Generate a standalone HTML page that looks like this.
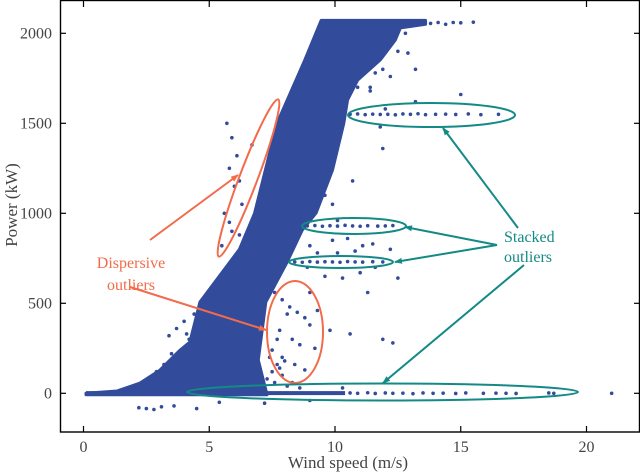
<!DOCTYPE html>
<html><head><meta charset="utf-8"><style>
html,body{margin:0;padding:0;background:#fff;}
svg{display:block;}
text{font-family:"Liberation Serif",serif;}
</style></head><body>
<svg id="chart" width="640" height="472" viewBox="0 0 640 472" xmlns="http://www.w3.org/2000/svg" style="position:absolute;left:0;top:0">
<g id="plot"></g>
<g id="axes"></g>
</svg>
<script>
const xTicks=[0,5,10,15,20];
const yTicks=[0,500,1000,1500,2000];
// dense band outline (wind speed, power)
const bandLeftSpeed=[0.1,1.34,2.25,3.04,3.84,4.23,4.63,6.2,6.8,7.7,8.8,9.45];
const bandLeftPower=[0,13,57,129,240,285,507,800,1000,1502,1852,2072];
const bandRightSpeed=[13.6,13.6,12.6,12.4,11.8,10.9,10.5,10.35,9.9,9.25,8.7,8.1,7.25,6.95,7.2,7.3,0.1];
const bandRightPower=[2072,2050,2030,1963,1852,1740,1630,1500,1240,1002,907,730,507,185,46,-8,-8];
// scattered outliers
const outSpeed=[10.6,10.9,11.2,11.5,11.8,12.1,12.4,12.7,13.0,13.3,13.6,14.0,14.4,14.8,15.3,15.8,16.5,
8.9,9.2,9.5,9.8,10.1,10.4,10.7,11.0,11.3,11.7,12.0,12.3,
8.4,8.7,9.0,9.3,9.6,9.9,10.2,10.5,10.8,11.1,11.5,11.9,
10.6,10.9,11.3,11.6,12.0,12.3,12.7,13.1,13.5,13.9,14.3,14.8,15.2,15.9,16.4,16.8,17.2,18.5,18.7,21.0,
5.7,5.9,6.1,5.8,6.0,6.3,5.6,5.9,6.2,6.4,5.5,6.6,6.7,6.2,5.8,
7.6,7.9,8.2,8.5,8.8,9.0,7.8,8.3,8.6,9.2,7.9,8.4,8.8,7.7,8.1,9.0,
9.9,10.5,11.1,10.1,10.8,11.5,12.2,9.6,10.3,11.0,11.6,12.5,9.3,9.8,10.6,11.9,12.3,
10.0,10.7,11.6,12.0,11.4,13.2,15.0,12.9,
2.2,2.5,2.8,3.1,3.6,4.5,7.2,5.4,9.0,10.3,
11.8,11.9,13.2,12.0,10.7,11.3,
3.4,3.7,4.0,4.2,3.5,3.9,4.4,2.9,3.2,4.1,
7.3,7.5,7.7,7.4,7.6,7.9,8.1,7.5,8.3,8.6,8.0,7.8,
10.7,11.0,11.3,11.6,11.9,12.2,10.9,11.4,12.8,13.0,13.3,13.8,14.1,14.4,14.7,15.0,15.5,12.5,
9.4,9.6,9.9,10.1,9.0,9.3,8.9,6.9,7.1,6.6];
const outPower=[1550,1552,1548,1551,1549,1550,1547,1552,1550,1553,1548,1550,1551,1549,1552,1548,1550,
930,932,928,931,929,933,930,928,931,929,930,932,
730,728,732,729,731,730,728,732,730,729,731,730,
2,0,3,-1,2,0,1,-2,2,0,1,-1,2,0,1,0,-1,2,0,0,
1500,1420,1320,1250,1150,1050,1000,900,880,860,820,780,1380,1180,950,
560,520,480,450,420,380,350,300,270,250,200,160,130,300,440,560,
850,860,820,780,790,830,800,650,640,670,700,640,460,350,330,300,280,
1900,1830,1780,1950,1700,1620,1660,1890,
-80,-85,-90,-75,-70,-85,-55,-50,-40,30,
1480,1360,1800,1580,1180,560,
320,360,400,300,220,180,440,120,160,330,
80,120,160,200,60,100,40,240,60,30,180,140,
1960,1920,1880,1840,1800,1760,1700,1680,2000,2040,2060,2055,2060,2050,2060,2058,2062,1900,
1200,1100,1050,960,820,780,700,600,650,260];

const X0=83.5, XS=25.15, Y0=393.3, YS=0.18;
const sx=v=>X0+v*XS, sy=v=>Y0-v*YS;
const NS='http://www.w3.org/2000/svg';
function mk(tag,attrs,parent){const e=document.createElementNS(NS,tag);for(const k in attrs)e.setAttribute(k,attrs[k]);parent.appendChild(e);return e;}
const plot=document.getElementById('plot'),axes=document.getElementById('axes');
const BLUE='#324b9b';
const FONT='"Liberation Serif", serif';
let pts=[];
for(let i=0;i<bandLeftSpeed.length;i++)pts.push(sx(bandLeftSpeed[i])+','+sy(bandLeftPower[i]));
for(let i=0;i<bandRightSpeed.length;i++)pts.push(sx(bandRightSpeed[i])+','+sy(bandRightPower[i]));
const band=mk('polygon',{points:pts.join(' '),fill:BLUE,stroke:BLUE,'stroke-width':3,'stroke-linejoin':'round'},plot);


const zl=mk('rect',{x:sx(0.1),y:sy(0)-2.2,width:sx(10.4)-sx(0.1),height:4,fill:BLUE},plot);


for(let i=0;i<outSpeed.length;i++){
 const c=mk('circle',{cx:sx(outSpeed[i]),cy:sy(outPower[i]),r:1.8,fill:BLUE},plot);
 
 
}
const fr=mk('rect',{x:60.5,y:0.5,width:579,height:431.5,fill:'none',stroke:'#000','stroke-width':1.4},axes);


xTicks.forEach(t=>{
 const x=sx(t);
 mk('line',{x1:x,x2:x,y1:432,y2:426,stroke:'#000','stroke-width':1.2},axes);
 mk('line',{x1:x,x2:x,y1:1,y2:7,stroke:'#000','stroke-width':1.2},axes);
 const tx=mk('text',{x:x,y:452,'text-anchor':'middle','font-size':16,fill:'#444','font-family':FONT},axes);
 tx.textContent=t;
 
 
});
yTicks.forEach(t=>{
 const y=sy(t);
 mk('line',{x1:60,x2:66,y1:y,y2:y,stroke:'#000','stroke-width':1.2},axes);
 mk('line',{x1:640,x2:634,y1:y,y2:y,stroke:'#000','stroke-width':1.2},axes);
 const tx=mk('text',{x:52,y:y+5,'text-anchor':'end','font-size':16,fill:'#444','font-family':FONT},axes);
 tx.textContent=t;
 
 
});
const xl=mk('text',{x:348,y:468,'text-anchor':'middle','font-size':17,fill:'#444','font-family':FONT},axes);
xl.textContent='Wind speed (m/s)';


const yl=mk('text',{x:0,y:0,'text-anchor':'middle','font-size':17,fill:'#444','font-family':FONT,transform:'translate(17,205) rotate(-90)'},axes);
yl.textContent='Power (kW)';


</script>
<svg style="position:absolute;left:0;top:0" width="640" height="472">
<defs>
<marker id="ao" markerWidth="8" markerHeight="8" refX="7" refY="4" orient="auto" markerUnits="userSpaceOnUse"><path d="M0,1 L8,4 L0,7 Z" fill="#f26b4a"/></marker>
<marker id="at" markerWidth="8" markerHeight="8" refX="7" refY="4" orient="auto" markerUnits="userSpaceOnUse"><path d="M0,1 L8,4 L0,7 Z" fill="#138a86"/></marker>
</defs>
<g fill="none" stroke="#f26b4a" stroke-width="2">
<ellipse cx="248.5" cy="178" rx="84" ry="9" transform="rotate(-69.3 248.5 178)"/>
<ellipse cx="295" cy="332" rx="28" ry="51"/>
<line x1="150" y1="240" x2="238" y2="175" marker-end="url(#ao)"/>
<line x1="130" y1="287" x2="266" y2="330" marker-end="url(#ao)"/>
</g>
<g font-family="Liberation Serif, serif" font-size="16" fill="#f26b4a" text-anchor="middle">
<text x="131" y="268">Dispersive</text><text x="131" y="290">outliers</text>
</g>
<g fill="none" stroke="#138a86" stroke-width="2">
<ellipse cx="431.5" cy="115" rx="83.5" ry="12"/>
<ellipse cx="354" cy="226" rx="52" ry="8"/>
<ellipse cx="341" cy="262" rx="52" ry="6"/>
<ellipse cx="382.5" cy="392" rx="195.5" ry="8.5"/>
<line x1="518" y1="228" x2="443" y2="128" marker-end="url(#at)"/>
<line x1="497" y1="245" x2="405" y2="227" marker-end="url(#at)"/>
<line x1="497" y1="245" x2="395" y2="262" marker-end="url(#at)"/>
<line x1="524" y1="265" x2="383" y2="383" marker-end="url(#at)"/>
</g>
<g font-family="Liberation Serif, serif" font-size="16" fill="#138a86">
<text x="504" y="242">Stacked</text><text x="504" y="262">outliers</text>
</g>
</svg>
</body></html>
